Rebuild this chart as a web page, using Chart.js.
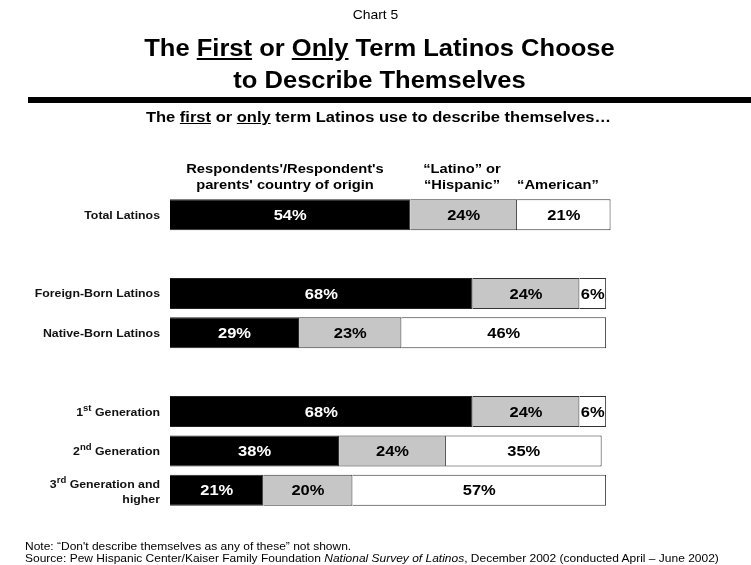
<!DOCTYPE html>
<html>
<head>
<meta charset="utf-8">
<script src="https://cdn.jsdelivr.net/npm/chart.js@4"></script>
<style>
  body { margin: 0; background: #fff; font-family: "Liberation Sans", Arial, sans-serif; color: #000; }
  #wrap { position: relative; width: 751px; height: 565px; overflow: hidden; }
  #wrap canvas { position: absolute; left: 0; top: 0; }
  .t { position: absolute; white-space: nowrap; }
  .center { left: 0; width: 751px; text-align: center; }
  #chartNo { top: 7px; font-size: 13px; transform: scaleX(1.07); }
  #title { left: 4px; top: 32px; font-size: 23px; font-weight: bold; line-height: 32px; transform: scaleX(1.11); }
  #rule { position: absolute; left: 28px; right: 0; top: 97px; height: 6px; background: #000; }
  #subtitle { left: 3px; top: 108px; font-size: 15.5px; font-weight: bold; transform: scaleX(1.065); }
  .head { font-size: 13.5px; font-weight: bold; line-height: 16px; text-align: center; transform: scaleX(1.09); }
  #h1 { left: 165px; width: 240px; top: 161px; }
  #h2 { left: 412px; width: 100px; top: 161px; }
  #h3 { left: 508px; width: 100px; top: 177px; }
  .foot { left: 25px; font-family: "Liberation Sans Narrow", "Arial Narrow", sans-serif; font-size: 11px; transform: scaleX(1.09); transform-origin: left center; }
  #note { top: 540px; }
  #source { top: 552px; }
</style>
</head>
<body>
<div id="wrap">
  <canvas id="termChart"></canvas>
  <div class="t center" id="chartNo">Chart 5</div>
  <div class="t center" id="title">The <u>First</u> or <u>Only</u> Term Latinos Choose<br>to Describe Themselves</div>
  <div id="rule"></div>
  <div class="t center" id="subtitle">The <u>first</u> or <u>only</u> term Latinos use to describe themselves…</div>
  <div class="t head" id="h1">Respondents'/Respondent's<br>parents' country of origin</div>
  <div class="t head" id="h2">“Latino” or<br>“Hispanic”</div>
  <div class="t head" id="h3">“American”</div>
  <div class="t foot" id="note">Note: “Don't describe themselves as any of these” not shown.</div>
  <div class="t foot" id="source">Source: Pew Hispanic Center/Kaiser Family Foundation <i>National Survey of Latinos</i>, December 2002 (conducted April – June 2002)</div>
</div>
<script>
// rows (empty strings are spacer rows between groups)
const groups = ["Total Latinos", "", "Foreign-Born Latinos", "Native-Born Latinos", "", "1st Generation", "2nd Generation", ["3rd Generation and", "higher"]];
const origin = [54, null, 68, 29, null, 68, 38, 21];
const latinoHispanic = [24, null, 24, 23, null, 24, 24, 20];
const american = [21, null, 6, 46, null, 6, 35, 57];

const labelColors = ["#fff", "#000", "#000"];

// row labels on the left, with superscript ordinals
const rowLabels = {
  id: "rowLabels",
  afterDraw(chart) {
    const ctx = chart.ctx;
    const y = chart.scales.y;
    const right = chart.chartArea.left - 10;
    const base = "bold 11px 'Liberation Sans', Arial, sans-serif";
    const sup = "bold 8.5px 'Liberation Sans', Arial, sans-serif";
    const sx = 1.12;
    ctx.save();
    ctx.fillStyle = "#111";
    ctx.textBaseline = "middle";
    ctx.textAlign = "left";
    groups.forEach((g, i) => {
      if (!g) return;
      const lines = Array.isArray(g) ? g : [g];
      const cy = y.getPixelForValue(i);
      lines.forEach((line, k) => {
        const ly = cy + 1 + (lines.length - 1) + (k - (lines.length - 1) / 2) * 15;
        const m = line.match(/^(\d)(st|nd|rd)(.*)$/);
        const parts = m ? [[m[1], base, 0], [m[2], sup, -4], [m[3], base, 0]] : [[line, base, 0]];
        let w = 0;
        parts.forEach((p) => { ctx.font = p[1]; w += ctx.measureText(p[0]).width; });
        ctx.save();
        ctx.translate(right, ly);
        ctx.scale(sx, 1);
        let x = -w;
        parts.forEach((p) => {
          ctx.font = p[1];
          ctx.fillText(p[0], x, p[2]);
          x += ctx.measureText(p[0]).width;
        });
        ctx.restore();
      });
    });
    ctx.restore();
  },
};

// percentage labels inside the bar segments
const valueLabels = {
  id: "valueLabels",
  afterDatasetsDraw(chart) {
    const ctx = chart.ctx;
    ctx.save();
    ctx.font = "bold 15px 'Liberation Sans', Arial, sans-serif";
    ctx.textAlign = "center";
    ctx.textBaseline = "middle";
    chart.data.datasets.forEach((ds, di) => {
      const meta = chart.getDatasetMeta(di);
      meta.data.forEach((bar, i) => {
        const v = ds.data[i];
        if (v == null) return;
        const c = bar.getCenterPoint();
        ctx.save();
        ctx.translate(c.x, c.y + 1);
        ctx.scale(1.1, 1);
        ctx.fillStyle = labelColors[di];
        ctx.fillText(v + "%", 0, 0);
        ctx.restore();
      });
    });
    ctx.restore();
  },
};

new Chart(document.getElementById("termChart"), {
  type: "bar",
  data: {
    labels: groups,
    datasets: [
      { label: "Respondents'/Respondent's parents' country of origin", data: origin, backgroundColor: "#000", borderColor: "#222", borderWidth: 1 },
      { label: "“Latino” or “Hispanic”", data: latinoHispanic, backgroundColor: "#c6c6c6", borderColor: "#333", borderWidth: 1 },
      { label: "“American”", data: american, backgroundColor: "#fff", borderColor: "#333", borderWidth: 1 },
    ],
  },
  options: {
    indexAxis: "y",
    responsive: true,
    maintainAspectRatio: false,
    animation: false,
    layout: { padding: { left: 170, right: 136, top: 195, bottom: 55 } },
    datasets: { bar: { categoryPercentage: 1, barPercentage: 0.79 } },
    scales: {
      x: { stacked: true, min: 0, max: 100, display: false },
      y: { stacked: true, display: false },
    },
    plugins: { legend: { display: false }, tooltip: { enabled: false } },
  },
  plugins: [rowLabels, valueLabels],
});
</script>
</body>
</html>
